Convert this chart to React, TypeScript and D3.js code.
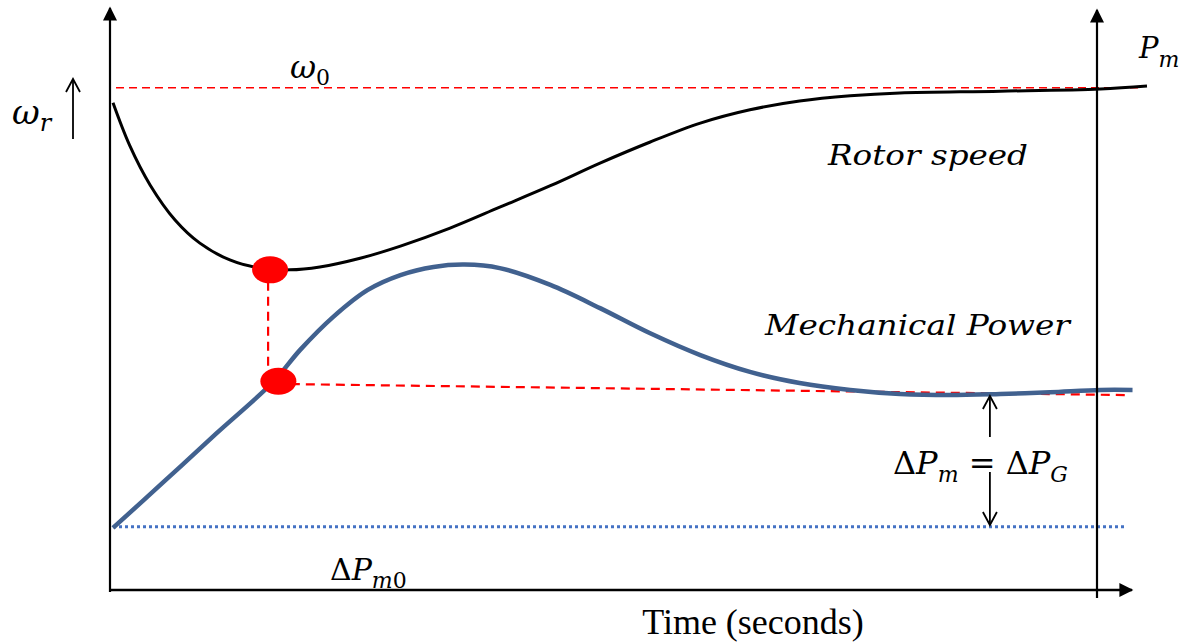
import React from 'react';
import * as d3 from 'd3';

// time in seconds, values in arbitrary units
const rotorTime = [0, 0.16, 0.36, 0.6, 0.84, 1.13, 1.42, 1.71, 2.0, 2.39, 2.78, 3.26, 3.74, 4.23, 4.71, 5.19, 5.68, 6.16, 6.64, 7.13, 7.61, 8.58, 9.55, 10];
const rotorSpeed = [84.0, 76.7, 69.8, 63.8, 59.8, 56.9, 55.5, 55.2, 55.7, 57.2, 59.3, 62.4, 66.0, 69.7, 73.6, 77.2, 80.5, 82.8, 84.3, 85.2, 85.7, 86.0, 86.4, 86.9];

const powerTime = [0, 0.5, 1.0, 1.55, 1.81, 2.13, 2.46, 2.78, 3.1, 3.4, 3.74, 4.23, 4.71, 5.19, 5.68, 6.16, 6.64, 7.13, 7.61, 8.09, 8.58, 9.06, 9.55, 9.86];
const mechPower = [10.7, 18.8, 27.0, 35.9, 41.4, 47.1, 51.7, 54.3, 55.7, 56.1, 55.5, 52.6, 48.6, 44.3, 40.5, 37.6, 35.7, 34.5, 33.8, 33.6, 33.8, 34.1, 34.5, 34.5];

const omega0 = 86.6;
const deltaPm0 = 10.9;
const markerTimes = [1.5, 1.58];
const markerValues = [55.2, 36.0];
const settleLine = [35.5, 33.6]; // red dashed from lower marker to the end
const settleTimes = [1.72, 9.83];
const deltaArrowTime = 8.5;

const W = 1181;
const H = 642;

const x = d3.scaleLinear().domain([0, 10]).range([113, 1147]);
const y = d3.scaleLinear().domain([0, 100]).range([590, 10]);

const mathFont = "'DejaVu Serif', serif";

// open "V" arrow head, tip at (tx, ty), pointing up (dir=-1) or down (dir=1)
const openHead = (tx: number, ty: number, dir: number) =>
  `M${tx - 7},${ty - dir * 13} L${tx},${ty} L${tx + 7},${ty - dir * 13}`;

const App = () => {
  const line = d3
    .line<[number, number]>()
    .x(d => x(d[0]))
    .y(d => y(d[1]))
    .curve(d3.curveCatmullRom.alpha(0.5));

  const rotorPath = line(rotorTime.map((t, i) => [t, rotorSpeed[i]])) || '';
  const powerPath = line(powerTime.map((t, i) => [t, mechPower[i]])) || '';

  const axisL = 110;
  const axisR = 1097;
  const axisB = 590;
  const ax = x(deltaArrowTime) - 2;

  return (
    <svg width={W} height={H} style={{ position: 'absolute', left: 0, top: 0, background: '#fff' }}>
      <defs>
        <marker id="tri" viewBox="0 0 10 10" refX="9" refY="5" markerWidth="16" markerHeight="14" orient="auto" markerUnits="userSpaceOnUse">
          <path d="M0,0 L10,5 L0,10 z" fill="#000" />
        </marker>
      </defs>

      {/* reference lines */}
      <line x1={116} x2={1143} y1={y(omega0)} y2={y(omega0)} stroke="#ff0000" strokeWidth={1.6} strokeDasharray="8,5" />
      <line x1={113} x2={1127} y1={y(deltaPm0)} y2={y(deltaPm0)} stroke="#4472c4" strokeWidth={3} strokeDasharray="3,3" />
      <line x1={x(markerTimes[0])} x2={x(markerTimes[0])} y1={y(markerValues[0]) + 12} y2={y(markerValues[1]) - 8} stroke="#ff0000" strokeWidth={2.2} strokeDasharray="9,6" />
      <line x1={x(settleTimes[0])} x2={x(settleTimes[1])} y1={y(settleLine[0])} y2={y(settleLine[1])} stroke="#ff0000" strokeWidth={2.2} strokeDasharray="9,6" />

      {/* curves */}
      <path d={rotorPath} fill="none" stroke="#000" strokeWidth={3} />
      <path d={powerPath} fill="none" stroke="#41618f" strokeWidth={4.5} />

      {/* markers */}
      {markerTimes.map((t, i) => (
        <ellipse key={i} cx={x(t) + 2} cy={y(markerValues[i])} rx={18} ry={13.5} fill="#ff0000" />
      ))}

      {/* axes */}
      <line x1={axisL} x2={axisL} y1={axisB + 2} y2={8} stroke="#000" strokeWidth={2.2} markerEnd="url(#tri)" />
      <line x1={axisL - 1} x2={1132} y1={axisB} y2={axisB} stroke="#000" strokeWidth={2.5} markerEnd="url(#tri)" />
      <line x1={axisR} x2={axisR} y1={598} y2={10} stroke="#000" strokeWidth={2.2} markerEnd="url(#tri)" />

      {/* ΔP arrows */}
      <g stroke="#000" strokeWidth={1.8} fill="none">
        <line x1={ax} x2={ax} y1={437} y2={397} />
        <path d={openHead(ax, 396, -1)} />
        <line x1={ax} x2={ax} y1={472} y2={524} />
        <path d={openHead(ax, 525, 1)} />
        {/* ω_r arrow */}
        <line x1={73} x2={73} y1={139} y2={80} />
        <path d={openHead(73, 79, -1)} />
      </g>

      {/* labels */}
      <text x={12} y={124} fontFamily={mathFont} fontStyle="italic" fontSize={34}>
        ω<tspan fontSize={24} dy={7}>r</tspan>
      </text>
      <text x={290} y={78} fontFamily={mathFont} fontStyle="italic" fontSize={32}>
        ω<tspan fontSize={22} fontStyle="normal" dy={7}>0</tspan>
      </text>
      <text x={1139} y={58} fontFamily={mathFont} fontStyle="italic" fontSize={29}>
        P<tspan fontSize={22} dy={9}>m</tspan>
      </text>
      <text x={828} y={165} fontFamily={mathFont} fontStyle="italic" fontSize={28} textLength={200} lengthAdjust="spacingAndGlyphs">
        Rotor speed
      </text>
      <text x={765} y={335} fontFamily={mathFont} fontStyle="italic" fontSize={28} textLength={305} lengthAdjust="spacingAndGlyphs">
        Mechanical Power
      </text>
      <text x={893} y={474} fontFamily={mathFont} fontSize={32}>
        Δ<tspan fontStyle="italic">P</tspan>
        <tspan fontStyle="italic" fontSize={22} dy={8}>m</tspan>
        <tspan dy={-8}> = Δ</tspan>
        <tspan fontStyle="italic">P</tspan>
        <tspan fontStyle="italic" fontSize={22} dy={8}>G</tspan>
      </text>
      <text x={330} y={580} fontFamily={mathFont} fontSize={30}>
        Δ<tspan fontStyle="italic">P</tspan>
        <tspan fontStyle="italic" fontSize={22} dy={8}>m</tspan>
        <tspan fontSize={22}>0</tspan>
      </text>
      <text x={753} y={634} textAnchor="middle" fontFamily="'Liberation Serif', 'Times New Roman', serif" fontSize={36}>
        Time (seconds)
      </text>
    </svg>
  );
};

export default App;
